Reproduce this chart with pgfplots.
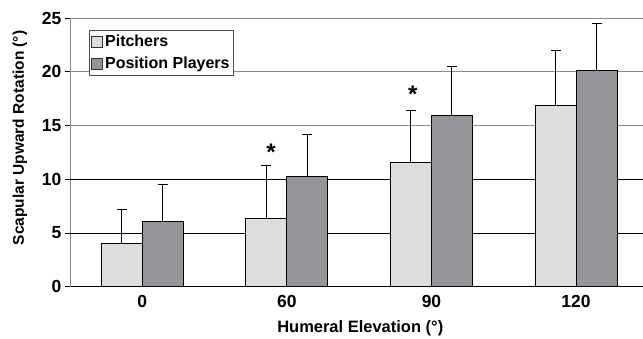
\documentclass[border=0pt]{standalone}
\usepackage{fontspec}
\setmainfont{Liberation Sans}
\usepackage{pgfplots}
\pgfplotsset{compat=1.18}
\definecolor{pitch}{HTML}{DCDDDF}
\definecolor{pos}{HTML}{939598}
\definecolor{gridgray}{HTML}{8A8A8A}
\begin{document}
\begin{tikzpicture}
\begin{axis}[
  scale only axis, width=573pt, height=269pt,
  ybar=0pt, bar width=41pt,
  xmin=-0.5, xmax=3.46, ymin=0, ymax=25,
  xtick={0,1,2,3}, xticklabels={0,60,90,120},
  ytick={0,5,10,15,20,25},
  extra y ticks={5,10}, extra y tick labels={},
  extra y tick style={grid style={black, line width=0.8pt}},
  axis lines=left, axis line style={-},
  x axis line style={black, line width=0.8pt},
  y axis line style={gridgray, line width=0.8pt},
  xtick style={draw=none},
  ytick style={black, line width=0.8pt},
  tick align=outside, major tick length=5pt,
  ymajorgrids, grid style={gridgray, line width=0.8pt},
  tick label style={font=\fontsize{17.5}{20}\selectfont\bfseries},
  /pgf/number format/assume math mode=true,
  xlabel={Humeral Elevation (°)},
  ylabel={Scapular Upward Rotation (°)},
  xlabel style={font=\fontsize{16.5}{19}\selectfont\bfseries, at={(axis description cs:0.507,-0.1524)}, anchor=center},
  ylabel style={font=\fontsize{15.5}{18}\selectfont\bfseries, at={(axis description cs:-0.0873,0.554)}, anchor=center},
  legend style={at={(0.0337,0.955)}, anchor=north west, draw=black!70,
    font=\fontsize{16}{18}\selectfont\bfseries, row sep=5pt,
    inner xsep=2pt, inner ysep=3pt},
  legend cell align=left,
  legend image code/.code={\draw[#1, draw=black!80, line width=0.7pt] (0pt,-5.5pt) rectangle (11pt,5.5pt);},
  every axis plot/.append style={draw=black, line width=1pt},
  error bars/error bar style={black, line width=1pt},
  error bars/error mark options={rotate=90, mark size=5pt, line width=1pt, black},
]
\addplot[fill=pitch, error bars/.cd, y dir=plus, y explicit]
  coordinates {(0,4.05) +- (0,3.15) (1,6.35) +- (0,4.95) (2,11.55) +- (0,4.85) (3,16.85) +- (0,5.1)};
\addplot[fill=pos, error bars/.cd, y dir=plus, y explicit]
  coordinates {(0,6.05) +- (0,3.5) (1,10.3) +- (0,3.9) (2,15.9) +- (0,4.6) (3,20.1) +- (0,4.4)};
\legend{Pitchers, Position Players}
\node[font=\fontsize{24}{24}\selectfont\bfseries, inner sep=0pt] at (axis cs:0.89,12.5) {*};
\node[font=\fontsize{24}{24}\selectfont\bfseries, inner sep=0pt] at (axis cs:1.87,17.9) {*};
\end{axis}
\path[use as bounding box] ([xshift=-70pt,yshift=-51pt]current axis.south west) rectangle ([yshift=18pt]current axis.north east);
\end{tikzpicture}
\end{document}
